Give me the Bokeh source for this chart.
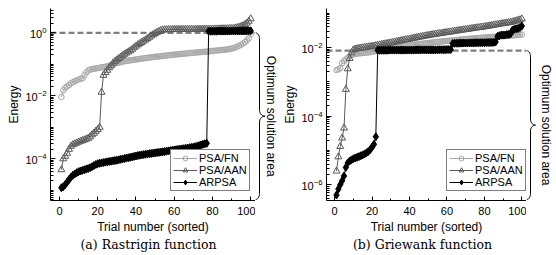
import math
import numpy as np
from bokeh.plotting import figure
from bokeh.layouts import row, column
from bokeh.models import (FixedTicker, LogTickFormatter, Legend, LegendItem,
                          Range1d, Span)
from bokeh.core.properties import value
from bokeh.embed import file_html
from bokeh.resources import INLINE

# ---------------- data ----------------
trials = list(range(1, 101))
x_ticks = [0, 20, 40, 60, 80, 100]
x_minor_ticks = [10, 30, 50, 70, 90]

rastrigin_psa_fn = [
    0.0092, 0.015, 0.018, 0.020, 0.022, 0.025, 0.027, 0.029, 0.031, 0.033,
    0.035, 0.036, 0.045, 0.055, 0.064, 0.068, 0.070, 0.072, 0.074, 0.076,
    0.078, 0.080, 0.082, 0.084, 0.086, 0.090, 0.095, 0.100, 0.105, 0.110,
    0.114, 0.118, 0.122, 0.125, 0.128, 0.131, 0.134, 0.137, 0.140, 0.143,
    0.146, 0.149, 0.152, 0.155, 0.158, 0.161, 0.164, 0.167, 0.170, 0.173,
    0.176, 0.179, 0.182, 0.185, 0.188, 0.191, 0.194, 0.197, 0.200, 0.203,
    0.206, 0.209, 0.212, 0.215, 0.218, 0.221, 0.224, 0.227, 0.230, 0.233,
    0.236, 0.239, 0.242, 0.245, 0.248, 0.251, 0.254, 0.258, 0.262, 0.266,
    0.270, 0.274, 0.278, 0.282, 0.286, 0.290, 0.295, 0.300, 0.308, 0.318,
    0.330, 0.345, 0.365, 0.390, 0.420, 0.460, 0.510, 0.580, 0.680, 0.920]
rastrigin_psa_aan = [
    4.5e-5, 1.0e-4, 1.2e-4, 1.5e-4, 2.0e-4, 2.5e-4, 2.8e-4, 3.0e-4, 3.2e-4, 3.4e-4,
    3.6e-4, 3.8e-4, 4.0e-4, 4.2e-4, 4.5e-4, 5.0e-4, 5.8e-4, 6.5e-4, 7.5e-4, 8.5e-4,
    1.0e-3, 0.013, 0.045, 0.055, 0.065, 0.078, 0.090, 0.110, 0.125, 0.140,
    0.155, 0.170, 0.190, 0.210, 0.230, 0.250, 0.270, 0.300, 0.340, 0.380,
    0.420, 0.460, 0.500, 0.550, 0.600, 0.660, 0.730, 0.800, 0.880, 0.960,
    1.04, 1.12, 1.20, 1.24, 1.26, 1.26, 1.27, 1.27, 1.27, 1.28,
    1.28, 1.28, 1.28, 1.29, 1.29, 1.29, 1.29, 1.30, 1.30, 1.30,
    1.30, 1.30, 1.31, 1.31, 1.31, 1.31, 1.32, 1.32, 1.32, 1.32,
    1.33, 1.33, 1.33, 1.34, 1.34, 1.35, 1.35, 1.36, 1.37, 1.38,
    1.40, 1.43, 1.47, 1.52, 1.60, 1.70, 1.85, 2.05, 2.35, 2.80]
rastrigin_arpsa = [
    1.2e-5, 1.3e-5, 1.5e-5, 1.8e-5, 2.2e-5, 2.6e-5, 3.0e-5, 3.3e-5, 3.6e-5, 3.9e-5,
    4.1e-5, 4.3e-5, 4.5e-5, 4.7e-5, 4.9e-5, 5.2e-5, 5.6e-5, 6.1e-5, 6.6e-5, 7.0e-5,
    7.2e-5, 7.4e-5, 7.6e-5, 7.8e-5, 8.0e-5, 8.2e-5, 8.4e-5, 8.6e-5, 8.8e-5, 9.0e-5,
    9.3e-5, 9.6e-5, 9.9e-5, 1.02e-4, 1.05e-4, 1.08e-4, 1.11e-4, 1.15e-4, 1.19e-4, 1.23e-4,
    1.27e-4, 1.30e-4, 1.33e-4, 1.36e-4, 1.39e-4, 1.42e-4, 1.45e-4, 1.48e-4, 1.51e-4, 1.54e-4,
    1.57e-4, 1.60e-4, 1.63e-4, 1.66e-4, 1.70e-4, 1.74e-4, 1.78e-4, 1.82e-4, 1.86e-4, 1.90e-4,
    1.94e-4, 1.98e-4, 2.02e-4, 2.06e-4, 2.10e-4, 2.15e-4, 2.20e-4, 2.25e-4, 2.30e-4, 2.36e-4,
    2.43e-4, 2.52e-4, 2.62e-4, 2.75e-4, 2.88e-4, 3.0e-4, 3.1e-4, 1.13, 1.13, 1.13,
    1.13, 1.13, 1.14, 1.14, 1.14, 1.14, 1.14, 1.14, 1.14, 1.15,
    1.15, 1.15, 1.15, 1.15, 1.15, 1.15, 1.15, 1.16, 1.16, 1.16]
rastrigin_optimum = 1.0
rastrigin_y_ticks = [1e-4, 1e-2, 1e0]

griewank_psa_fn = [
    2.2e-3, 2.3e-3, 2.5e-3, 3.5e-3, 4.0e-3, 4.5e-3, 5.0e-3, 5.5e-3, 6.0e-3, 6.3e-3,
    6.5e-3, 6.6e-3, 6.7e-3, 6.8e-3, 6.9e-3, 7.0e-3, 7.1e-3, 7.2e-3, 7.3e-3, 7.5e-3,
    7.7e-3, 7.9e-3, 8.1e-3, 8.3e-3, 8.5e-3, 8.7e-3, 8.9e-3, 9.1e-3, 9.3e-3, 9.5e-3,
    9.7e-3, 9.9e-3, 1.01e-2, 1.03e-2, 1.05e-2, 1.07e-2, 1.09e-2, 1.11e-2, 1.13e-2, 1.15e-2,
    1.17e-2, 1.19e-2, 1.21e-2, 1.23e-2, 1.25e-2, 1.27e-2, 1.29e-2, 1.31e-2, 1.33e-2, 1.35e-2,
    1.37e-2, 1.39e-2, 1.41e-2, 1.43e-2, 1.45e-2, 1.47e-2, 1.49e-2, 1.51e-2, 1.53e-2, 1.55e-2,
    1.57e-2, 1.59e-2, 1.61e-2, 1.63e-2, 1.65e-2, 1.67e-2, 1.69e-2, 1.71e-2, 1.73e-2, 1.75e-2,
    1.77e-2, 1.79e-2, 1.81e-2, 1.83e-2, 1.85e-2, 1.87e-2, 1.89e-2, 1.91e-2, 1.93e-2, 1.95e-2,
    1.97e-2, 1.99e-2, 2.01e-2, 2.03e-2, 2.05e-2, 2.07e-2, 2.09e-2, 2.11e-2, 2.13e-2, 2.15e-2,
    2.17e-2, 2.19e-2, 2.21e-2, 2.23e-2, 2.25e-2, 2.27e-2, 2.29e-2, 2.31e-2, 2.35e-2, 2.40e-2]
griewank_psa_aan = [
    2.5e-6, 6.5e-6, 1.3e-5, 2.3e-5, 4.5e-5, 6.0e-4, 2.4e-3, 4.8e-3, 7.0e-3, 8.5e-3,
    9.0e-3, 9.2e-3, 9.4e-3, 9.6e-3, 9.8e-3, 1.00e-2, 1.02e-2, 1.04e-2, 1.06e-2, 1.08e-2,
    1.10e-2, 1.13e-2, 1.16e-2, 1.19e-2, 1.22e-2, 1.25e-2, 1.28e-2, 1.31e-2, 1.34e-2, 1.37e-2,
    1.40e-2, 1.44e-2, 1.48e-2, 1.52e-2, 1.56e-2, 1.60e-2, 1.64e-2, 1.68e-2, 1.72e-2, 1.76e-2,
    1.80e-2, 1.85e-2, 1.90e-2, 1.95e-2, 2.00e-2, 2.05e-2, 2.10e-2, 2.15e-2, 2.20e-2, 2.25e-2,
    2.30e-2, 2.35e-2, 2.40e-2, 2.45e-2, 2.50e-2, 2.55e-2, 2.60e-2, 2.65e-2, 2.70e-2, 2.75e-2,
    2.80e-2, 2.86e-2, 2.92e-2, 2.98e-2, 3.04e-2, 3.10e-2, 3.16e-2, 3.22e-2, 3.28e-2, 3.34e-2,
    3.40e-2, 3.47e-2, 3.54e-2, 3.61e-2, 3.68e-2, 3.75e-2, 3.82e-2, 3.89e-2, 3.96e-2, 4.03e-2,
    4.10e-2, 4.20e-2, 4.30e-2, 4.40e-2, 4.50e-2, 4.60e-2, 4.70e-2, 4.80e-2, 4.90e-2, 5.00e-2,
    5.10e-2, 5.20e-2, 5.30e-2, 5.40e-2, 5.60e-2, 5.80e-2, 6.00e-2, 6.20e-2, 6.40e-2, 6.80e-2]
griewank_arpsa = [
    5.0e-7, 7.5e-7, 1.0e-6, 1.3e-6, 1.8e-6, 3.2e-6, 4.3e-6, 4.9e-6, 5.3e-6, 5.7e-6,
    6.0e-6, 6.3e-6, 6.6e-6, 7.0e-6, 7.4e-6, 7.9e-6, 8.5e-6, 9.3e-6, 1.05e-5, 1.25e-5,
    1.5e-5, 2.5e-5, 8.3e-3, 8.3e-3, 8.3e-3, 8.3e-3, 8.3e-3, 8.3e-3, 8.4e-3, 8.4e-3,
    8.4e-3, 8.4e-3, 8.4e-3, 8.4e-3, 8.4e-3, 8.4e-3, 8.4e-3, 8.4e-3, 8.4e-3, 8.4e-3,
    8.4e-3, 8.4e-3, 8.5e-3, 8.5e-3, 8.5e-3, 8.5e-3, 8.5e-3, 8.5e-3, 8.5e-3, 8.5e-3,
    8.5e-3, 8.5e-3, 8.5e-3, 8.5e-3, 8.6e-3, 8.6e-3, 8.6e-3, 8.6e-3, 8.6e-3, 8.7e-3,
    8.7e-3, 8.7e-3, 1.30e-2, 1.32e-2, 1.33e-2, 1.33e-2, 1.34e-2, 1.34e-2, 1.35e-2, 1.35e-2,
    1.35e-2, 1.36e-2, 1.36e-2, 1.36e-2, 1.37e-2, 1.37e-2, 1.37e-2, 1.38e-2, 1.38e-2, 1.38e-2,
    1.39e-2, 1.39e-2, 1.40e-2, 1.40e-2, 1.41e-2, 1.45e-2, 2.1e-2, 2.2e-2, 2.3e-2, 2.3e-2,
    2.3e-2, 2.4e-2, 2.4e-2, 2.5e-2, 3.2e-2, 3.4e-2, 3.5e-2, 3.6e-2, 3.8e-2, 4.2e-2]
griewank_optimum = 8.1e-3
griewank_y_ticks = [1e-6, 1e-4, 1e-2]

y_minor_ticks = [m * 10.0 ** e for e in range(-8, 2) for m in range(1, 10)]

series_labels = ["PSA/FN", "PSA/AAN", "ARPSA"]
optimum_text = "Optimum solution area"
captions = ["(a) Rastrigin function", "(b) Griewank function"]

# ---------------- layout / style ----------------
H_MAIN = 236
BT, BB = 8, 31
FRAME_H = H_MAIN - BT - BB
CAP_H = 255 - H_MAIN
SANS = "Liberation Sans"
FN_COLOR = "#a6a6a6"
AAN_COLOR = "#5a5a5a"
ARPSA_COLOR = "#000000"
DASH_COLOR = "#7f7f7f"


def make_panel(fn, aan, arpsa, optimum, y_ticks, y_lo, y_hi, x_lo, x_hi,
               left_border, width, legend_xy):
    p = figure(width=width, height=H_MAIN,
               x_range=Range1d(x_lo, x_hi), y_range=Range1d(y_lo, y_hi),
               y_axis_type="log", output_backend="svg", toolbar_location=None,
               min_border_left=left_border, min_border_right=0,
               min_border_top=BT, min_border_bottom=BB)
    p.outline_line_color = None
    p.grid.visible = False
    p.background_fill_color = "white"

    for ax in (p.xaxis[0], p.yaxis[0]):
        ax.axis_line_color = "black"
        ax.major_tick_line_color = "black"
        ax.minor_tick_line_color = "black"
        ax.major_tick_out = 0
        ax.minor_tick_out = 0
        ax.major_label_text_font = SANS
        ax.major_label_text_font_size = "11px"
        ax.major_label_text_color = "black"
        ax.axis_label_text_font = SANS
        ax.axis_label_text_font_size = "12px"
        ax.axis_label_text_font_style = "normal"
        ax.axis_label_text_color = "black"

    xa = p.xaxis[0]
    xa.ticker = FixedTicker(ticks=x_ticks, minor_ticks=x_minor_ticks)
    xa.major_tick_in = 4
    xa.minor_tick_in = 2
    xa.major_label_standoff = 6
    xa.axis_label_standoff = 2
    xa.axis_label = "Trial number (sorted)"

    ya = p.yaxis[0]
    ya.ticker = FixedTicker(ticks=y_ticks, minor_ticks=y_minor_ticks)
    ya.formatter = LogTickFormatter()
    ya.major_tick_in = 5
    ya.minor_tick_in = 3
    ya.major_label_standoff = 4
    ya.axis_label_standoff = 1
    ya.axis_label = "Energy"

    span = Span(location=optimum, dimension="width", line_color=DASH_COLOR,
                line_width=2.2, line_dash="6 3", level="underlay")
    p.add_layout(span)

    l1 = p.line(trials, fn, line_color=FN_COLOR, line_width=1)
    s1 = p.scatter(trials, fn, marker="circle", size=5.5, line_color=FN_COLOR,
                   fill_color=None, line_width=1)
    l2 = p.line(trials, aan, line_color=AAN_COLOR, line_width=1)
    s2 = p.scatter(trials, aan, marker="triangle", size=7, line_color=AAN_COLOR,
                   fill_color=None, line_width=1)
    l3 = p.line(trials, arpsa, line_color=ARPSA_COLOR, line_width=1)
    s3 = p.scatter(trials, arpsa, marker="diamond", size=8, line_color=ARPSA_COLOR,
                   fill_color=ARPSA_COLOR, line_width=1)

    legend = Legend(items=[LegendItem(label=series_labels[0], renderers=[l1, s1]),
                           LegendItem(label=series_labels[1], renderers=[l2, s2]),
                           LegendItem(label=series_labels[2], renderers=[l3, s3])],
                    location=legend_xy, orientation="vertical",
                    border_line_color="black", border_line_width=1,
                    background_fill_color="white", background_fill_alpha=1,
                    label_text_font=SANS, label_text_font_size="11px",
                    label_text_color="black",
                    glyph_width=24, glyph_height=12, label_height=12,
                    label_standoff=2, padding=2, spacing=0, margin=0)
    p.add_layout(legend)
    return p


def make_brace(width, y_range, optimum, y_lo, ppd, spine, tip, text_x):
    b = figure(width=width, height=H_MAIN, x_range=Range1d(0, width), y_range=y_range,
               y_axis_type="log", x_axis_location=None, y_axis_location=None,
               output_backend="svg", toolbar_location=None,
               min_border_left=0, min_border_right=0,
               min_border_top=BT, min_border_bottom=BB)
    b.outline_line_color = None
    b.grid.visible = False
    b.background_fill_color = "white"
    lt = math.log10(optimum)
    lb = math.log10(y_lo)
    h = (lt - lb) * ppd - 1.0          # brace height in px
    r = 6.0
    s = np.linspace(0, 1, 10)
    hook_x = spine * np.sin(s * np.pi / 2)
    hook_y = r * (1 - np.cos(s * np.pi / 2))
    tip_x = spine + (tip - spine) * (1 - np.cos(s * np.pi / 2))
    tip_y = h / 2 - r + r * np.sin(s * np.pi / 2)
    ux = np.concatenate([hook_x, tip_x])
    uy = np.concatenate([hook_y, tip_y])
    px = np.concatenate([ux, ux[::-1]])
    py = np.concatenate([uy, (h - uy)[::-1]])
    ys = 10 ** (lt - py / ppd)
    b.line(px, ys, line_color="black", line_width=1)
    mid = 10 ** (lt - (h / 2) / ppd)
    b.text(x=[text_x], y=[mid], text=[optimum_text], angle=-math.pi / 2,
           text_align="center", text_baseline="middle",
           text_font=value(SANS), text_font_size="12px", text_color="black")
    return b


def make_caption(width, text, cx):
    c = figure(width=width, height=CAP_H, x_range=Range1d(0, width),
               y_range=Range1d(0, CAP_H), x_axis_location=None,
               y_axis_location=None, output_backend="svg",
               toolbar_location=None, min_border=0)
    c.outline_line_color = None
    c.grid.visible = False
    c.background_fill_color = "white"
    c.text(x=[cx], y=[CAP_H - 7.5], text=[text], text_align="center",
           text_baseline="middle", text_font=value("DejaVu Serif"),
           text_font_size="12.5px", text_color="black")
    return c


# panel (a)
PPD_A = 32.3
A_TOP = 10 ** (25 / PPD_A)
A_BOT = 10 ** (25 / PPD_A - FRAME_H / PPD_A)
pA = make_panel(rastrigin_psa_fn, rastrigin_psa_aan, rastrigin_arpsa,
                rastrigin_optimum, rastrigin_y_ticks,
                A_BOT, A_TOP, -4.7, 102.5, 50, 255, (120, 9))
bA = make_brace(25, pA.y_range, rastrigin_optimum, A_BOT, PPD_A, 4, 9.5, 15)
cA = make_caption(280, captions[0], 148)

# panel (b)
PPD_B = 35.2
B_TOP = 10 ** (-2 + 40 / PPD_B)
B_BOT = 10 ** (-2 + 40 / PPD_B - FRAME_H / PPD_B)
pB = make_panel(griewank_psa_fn, griewank_psa_aan, griewank_arpsa,
                griewank_optimum, griewank_y_ticks,
                B_BOT, B_TOP, -4.35, 102.5, 42, 246, (120, 9))
bB = make_brace(30, pB.y_range, griewank_optimum, B_BOT, PPD_B, 4, 9, 19)
cB = make_caption(276, captions[1], 142)

layout = row(column(row(pA, bA), cA), column(row(pB, bB), cB))
open("out.html", "w").write(file_html(layout, INLINE))
